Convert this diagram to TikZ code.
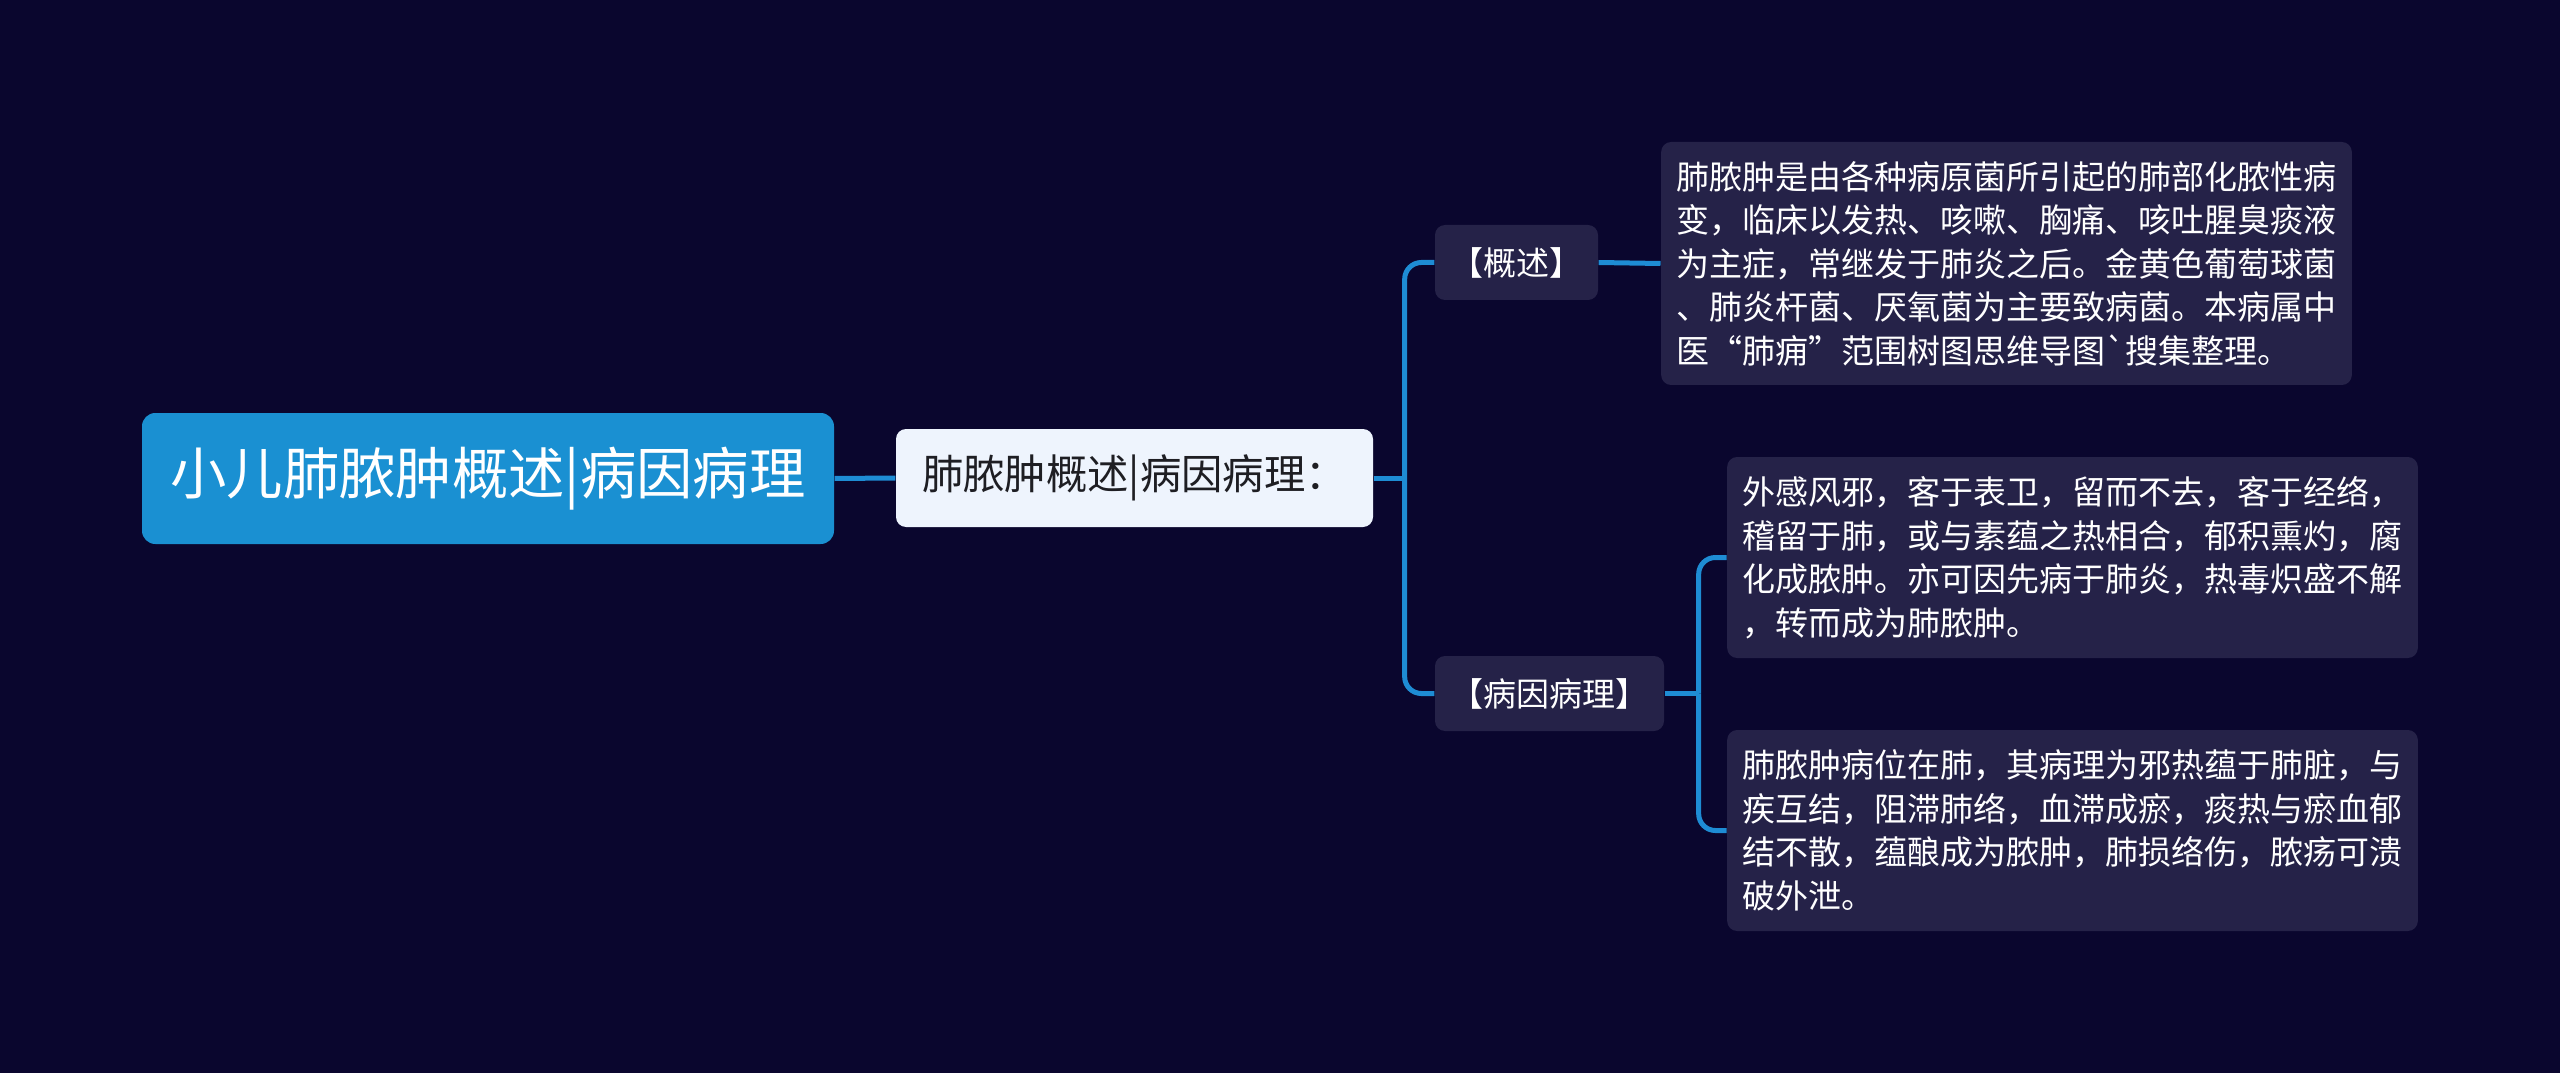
\documentclass[tikz,border=0pt]{standalone}
\usepackage{fontspec}
\newfontfamily\cjk{Noto Sans CJK SC}
\definecolor{bgc}{RGB}{10,6,46}
\definecolor{boxc}{RGB}{37,34,72}
\definecolor{rootc}{RGB}{26,144,210}
\definecolor{subc}{RGB}{238,244,253}
\definecolor{linec}{RGB}{30,140,212}
\definecolor{darktext}{RGB}{30,30,35}
\begin{document}
\begin{tikzpicture}[x=0.3pt,y=-0.3pt,
  rootbox/.style={rounded corners=4pt, fill=rootc, text=white, minimum width=207.6pt, minimum height=39.3pt, inner sep=0pt, font=\cjk\fontsize{16.9pt}{20pt}\selectfont},
  subbox/.style={rounded corners=3pt, fill=subc, text=darktext, minimum width=143.1pt, minimum height=29.4pt, inner sep=0pt, font=\cjk\fontsize{12.4pt}{14pt}\selectfont},
  labelbox/.style={rounded corners=3pt, fill=boxc, text=white, minimum height=22.5pt, inner sep=0pt, font=\cjk\fontsize{9.9pt}{12pt}\selectfont},
  textbox/.style={rounded corners=3pt, fill=boxc, text=white, align=left, text width=198pt, inner xsep=4.6pt, inner ysep=0pt, font=\cjk\fontsize{9.9pt}{13.05pt}\selectfont},
  conn/.style={draw=linec, line width=1.5pt},
  connr/.style={draw=linec, line width=1.5pt, rounded corners=5pt}]
\fill[bgc] (0,0) rectangle (2560,1073);
\useasboundingbox (0,0) rectangle (2560,1073);

\node[rootbox] (root) at (488,478.5) {小儿肺脓肿概述|病因病理};
\node[subbox] (sub) at (1134.5,478) {肺脓肿概述|病因病理：};
\node[labelbox, minimum width=48.9pt] (gs) at (1516.5,262.5) {【概述】};
\node[labelbox, minimum width=68.7pt] (by) at (1549.5,693.5) {【病因病理】};
\node[textbox, minimum height=72.9pt] (t1) at (2006.5,263.5) {肺脓肿是由各种病原菌所引起的肺部化脓性病\\变，临床以发热、咳嗽、胸痛、咳吐腥臭痰液\\为主症，常继发于肺炎之后。金黄色葡萄球菌\\、肺炎杆菌、厌氧菌为主要致病菌。本病属中\\医“肺痈”范围树图思维导图\textasciigrave 搜集整理。};
\node[textbox, minimum height=60.3pt] (t2) at (2072.5,557.5) {外感风邪，客于表卫，留而不去，客于经络，\\稽留于肺，或与素蕴之热相合，郁积熏灼，腐\\化成脓肿。亦可因先病于肺炎，热毒炽盛不解\\，转而成为肺脓肿。};
\node[textbox, minimum height=60.3pt] (t3) at (2072.5,830.5) {肺脓肿病位在肺，其病理为邪热蕴于肺脏，与\\疾互结，阻滞肺络，血滞成瘀，痰热与瘀血郁\\结不散，蕴酿成为脓肿，肺损络伤，脓疡可溃\\破外泄。};

\draw[conn] (root.east) -- (sub.west);
\path (sub.east) ++(31,0) coordinate (sp1);
\draw[conn] (sub.east) -- (sp1);
\draw[connr] (sp1) |- (gs.west);
\draw[connr] (sp1) |- (by.west);
\draw[conn] (gs.east) -- (t1.west);
\path (by.east) ++(34,0) coordinate (sp2);
\draw[conn] (by.east) -- (sp2);
\draw[connr] (sp2) |- (t2.west);
\draw[connr] (sp2) |- (t3.west);
\end{tikzpicture}
\end{document}
